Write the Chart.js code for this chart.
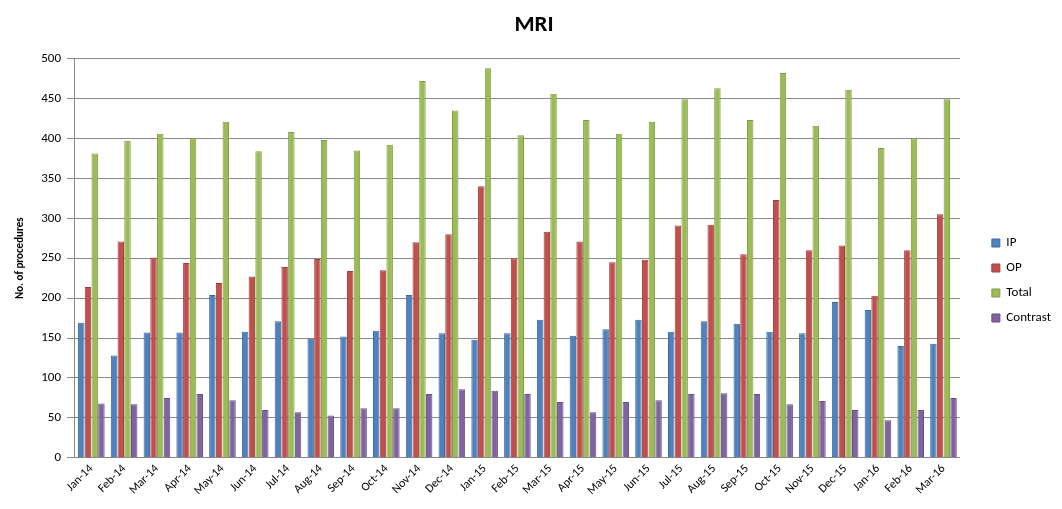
<!DOCTYPE html>
<html>
<head>
<meta charset="utf-8">
<script src="https://cdn.jsdelivr.net/npm/chart.js@4"></script>
<style>
  html, body { margin: 0; padding: 0; background: #fff; }
  #wrap { width: 1062px; height: 509px; }
</style>
</head>
<body>
<div id="wrap"><canvas id="barChart"></canvas></div>
<script>
const months = ["Jan-14", "Feb-14", "Mar-14", "Apr-14", "May-14", "Jun-14", "Jul-14", "Aug-14", "Sep-14",
  "Oct-14", "Nov-14", "Dec-14", "Jan-15", "Feb-15", "Mar-15", "Apr-15", "May-15", "Jun-15",
  "Jul-15", "Aug-15", "Sep-15", "Oct-15", "Nov-15", "Dec-15", "Jan-16", "Feb-16", "Mar-16"];
const ipValues = [169, 128, 157, 157, 204, 158, 171, 149, 152, 159, 204, 156, 148, 156, 173, 153, 161, 173,
  158, 171, 168, 158, 156, 195, 185, 140, 143];
const opValues = [214, 271, 251, 244, 219, 227, 239, 249, 234, 235, 270, 280, 340, 250, 283, 271, 245, 248,
  291, 292, 255, 323, 260, 266, 203, 260, 305];
const totalValues = [381, 397, 406, 400, 421, 384, 408, 398, 385, 392, 472, 435, 488, 404, 456, 423, 406, 421,
  449, 463, 423, 482, 416, 461, 388, 400, 449];
const contrastValues = [68, 67, 75, 80, 72, 60, 57, 53, 62, 62, 80, 86, 84, 80, 70, 57, 70, 72,
  80, 81, 80, 67, 71, 60, 47, 60, 75];
const yTicks = [0, 50, 100, 150, 200, 250, 300, 350, 400, 450, 500];

const font = "Calibri, Carlito, 'Open Sans', 'Liberation Sans', sans-serif";

// push the legend a bit away from the plot and down, like the original
const legendNudge = {
  id: "legendNudge",
  beforeInit(chart) {
    if (!chart.legend) return;
    const fit = chart.legend.fit;
    chart.legend.fit = function () {
      fit.call(this);
      this.width += 17;
    };
  },
  afterLayout(chart) {
    const lg = chart.legend;
    lg.left += 20;
    lg.top += 27;
    lg.bottom += 27;
  },
};

const ctx = document.getElementById("barChart").getContext("2d");
new Chart(ctx, {
  type: "bar",
  data: {
    labels: months,
    datasets: [
      { label: "IP", data: ipValues, backgroundColor: "#4F81BD", borderColor: "#3B6A9E", borderWidth: 1 },
      { label: "OP", data: opValues, backgroundColor: "#C0504D", borderColor: "#A03E3B", borderWidth: 1 },
      { label: "Total", data: totalValues, backgroundColor: "#9BBB59", borderColor: "#7E9C43", borderWidth: 1 },
      { label: "Contrast", data: contrastValues, backgroundColor: "#8064A2", borderColor: "#654E85", borderWidth: 1 },
    ],
  },
  plugins: [legendNudge],
  options: {
    responsive: true,
    maintainAspectRatio: false,
    animation: false,
    datasets: { bar: { categoryPercentage: 0.82, barPercentage: 0.96 } },
    layout: { padding: { left: 10, right: 4, top: 5, bottom: 7 } },
    plugins: {
      title: {
        display: true,
        text: "MRI",
        color: "#000",
        font: { family: font, size: 23, weight: "bold" },
        padding: { top: 6, bottom: 20 },
      },
      legend: {
        position: "right",
        labels: {
          color: "#000",
          boxWidth: 8,
          boxHeight: 8,
          padding: 12,
          font: { family: font, size: 13 },
        },
      },
      tooltip: { enabled: false },
    },
    scales: {
      x: {
        grid: { display: false, drawTicks: false },
        border: { color: "#888" },
        ticks: {
          color: "#000",
          maxRotation: 45,
          minRotation: 45,
          autoSkip: false,
          padding: 4,
          font: { family: font, size: 12 },
        },
      },
      y: {
        min: 0,
        max: 500,
        afterBuildTicks: (axis) => { axis.ticks = yTicks.map((v) => ({ value: v })); },
        grid: { color: "#8a8a8a", lineWidth: 1, tickLength: 8 },
        border: { color: "#888" },
        ticks: { color: "#000", padding: 6, font: { family: font, size: 13 } },
        title: {
          display: true,
          text: "No. of procedures",
          color: "#000",
          font: { family: font, size: 11, weight: "bold" },
          padding: { bottom: 8 },
        },
      },
    },
  },
});
</script>
</body>
</html>
